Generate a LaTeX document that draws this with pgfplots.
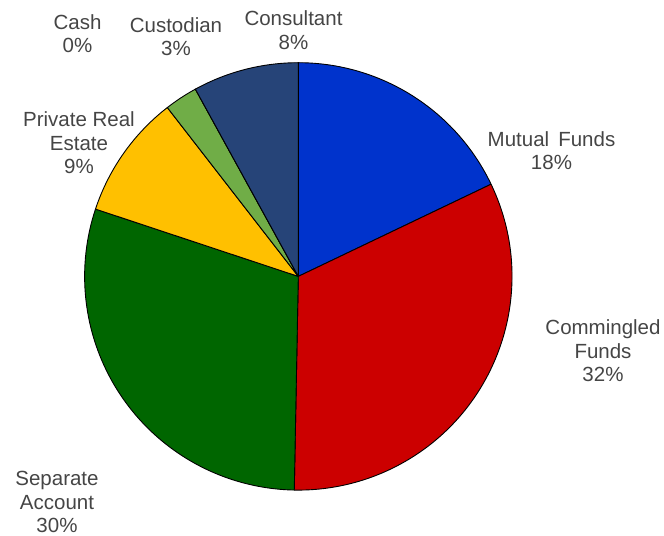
\documentclass[border=0pt]{standalone}
\usepackage{pgfplots}
\usepackage{pgfplotstable}
\pgfplotsset{compat=1.18}
\usepackage{fontspec}
\setmainfont{Liberation Sans}
\definecolor{cMF}{HTML}{0033CC}
\definecolor{cCF}{HTML}{CC0000}
\definecolor{cSA}{HTML}{006600}
\definecolor{cPR}{HTML}{FFC000}
\definecolor{cCU}{HTML}{70AD47}
\definecolor{cCA}{HTML}{A5A5A5}
\definecolor{cCO}{HTML}{264478}
\definecolor{txt}{HTML}{454545}
\pgfplotstableread{
label value color
MutualFunds 17.9 cMF
CommingledFunds 32.4 cCF
SeparateAccount 29.8 cSA
PrivateRealEstate 9.4 cPR
Custodian 2.5 cCU
Cash 0.0 cCA
Consultant 8.0 cCO
}\piedata
\begin{document}
\begin{tikzpicture}
\begin{axis}[hide axis, scale only axis, width=664bp, height=536bp,
  xmin=0, xmax=664, ymin=0, ymax=536, clip=false]
\def\cumul{0}
\pgfplotsforeachungrouped \i in {0,...,6}{%
  \pgfplotstablegetelem{\i}{value}\of\piedata \let\val\pgfplotsretval
  \pgfplotstablegetelem{\i}{color}\of\piedata \let\col\pgfplotsretval
  \pgfmathsetmacro\aS{90-3.6*\cumul}%
  \pgfmathsetmacro\aE{90-3.6*(\cumul+\val)}%
  \pgfmathsetmacro\cumul{\cumul+\val}%
  \edef\temp{\noexpand\draw[fill=\col, draw=black, line width=0.9bp, line join=round] (axis cs:298.3,259.6) -- ++(\aS:213.7bp) arc[start angle=\aS, end angle=\aE, radius=213.7bp] -- cycle;}%
  \temp
}
\begin{scope}[every node/.style={align=center, inner sep=0pt, text=txt, font=\fontsize{20.5bp}{23.5bp}\selectfont}]
\node at (axis cs:77.5,502.5) {Cash\\0\%};
\node at (axis cs:176,499.5) {Custodian\\3\%};
\node at (axis cs:293.5,506) {Consultant\\8\%};
\node at (axis cs:79,393) {Private Real\\Estate\\9\%};
\node at (axis cs:551.5,385.5) {Mutual\ \,Funds\\18\%};
\node at (axis cs:603,185) {Commingled\\Funds\\32\%};
\node at (axis cs:57,34) {Separate\\Account\\30\%};
\end{scope}
\end{axis}
\pgfresetboundingbox
\path (current axis.south west) rectangle (current axis.north east);
\end{tikzpicture}
\end{document}
